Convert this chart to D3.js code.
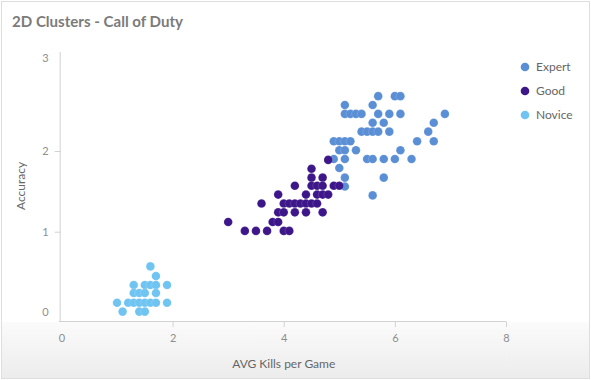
<!DOCTYPE html>
<html>
<head>
<meta charset="utf-8">
<script src="https://cdn.jsdelivr.net/npm/d3@7"></script>
<style>
  html, body { margin: 0; padding: 0; background: #fff; }
  svg { display: block; }
</style>
</head>
<body>
<svg id="chart" width="591" height="380"></svg>
<script>
// ---------- data ----------
const chartTitle = "2D Clusters - Call of Duty";
const xTitle = "AVG Kills per Game";
const yTitle = "Accuracy";
const categories = ["Expert", "Good", "Novice"];
const colors = ["#5a8fd6", "#3d168a", "#6fc4f2"];
const xTicks = [0, 2, 4, 6, 8];
const yTicks = [0, 1, 2, 3];

// [AVG kills per game, accuracy]
const expertPoints = [
  [5.7, 2.68], [6.0, 2.68], [6.1, 2.68],
  [5.1, 2.57], [5.6, 2.57],
  [5.1, 2.46], [5.2, 2.46], [5.3, 2.46], [5.4, 2.46], [5.7, 2.46], [5.9, 2.46], [6.1, 2.46], [6.9, 2.46],
  [5.6, 2.35], [5.8, 2.35], [6.7, 2.35],
  [5.4, 2.24], [5.5, 2.24], [5.6, 2.24], [5.7, 2.24], [5.9, 2.24], [6.6, 2.24],
  [4.9, 2.12], [5.0, 2.12], [5.1, 2.12], [5.2, 2.12], [6.4, 2.12], [6.7, 2.12],
  [5.0, 2.01], [5.1, 2.01], [5.3, 2.01], [6.1, 2.01],
  [4.9, 1.90], [5.1, 1.90], [5.5, 1.90], [5.6, 1.90], [5.8, 1.90], [6.0, 1.90], [6.3, 1.90],
  [5.0, 1.79],
  [5.1, 1.67], [5.8, 1.67],
  [5.1, 1.56],
  [5.6, 1.45]
];
const goodPoints = [
  [4.8, 1.89],
  [4.5, 1.78],
  [4.5, 1.67], [4.7, 1.67],
  [4.2, 1.57], [4.5, 1.57], [4.6, 1.57], [4.7, 1.57], [4.9, 1.57], [5.0, 1.57],
  [3.9, 1.46], [4.4, 1.46], [4.6, 1.46], [4.7, 1.46], [4.8, 1.46],
  [3.6, 1.35], [4.0, 1.35], [4.1, 1.35], [4.2, 1.35], [4.3, 1.35], [4.4, 1.35], [4.5, 1.35], [4.6, 1.35],
  [3.9, 1.24], [4.0, 1.24], [4.2, 1.24], [4.4, 1.24], [4.7, 1.24],
  [3.0, 1.12], [3.8, 1.12], [3.9, 1.12],
  [3.3, 1.01], [3.5, 1.01], [3.7, 1.01], [4.0, 1.01], [4.1, 1.01]
];
const novicePoints = [
  [1.6, 0.57],
  [1.7, 0.45],
  [1.3, 0.34], [1.5, 0.34], [1.6, 0.34], [1.7, 0.34], [1.9, 0.34],
  [1.3, 0.24], [1.4, 0.24], [1.5, 0.24], [1.7, 0.24],
  [1.0, 0.12], [1.2, 0.12], [1.3, 0.12], [1.4, 0.12], [1.5, 0.12], [1.6, 0.12], [1.7, 0.12], [1.9, 0.12],
  [1.1, 0.01], [1.4, 0.01], [1.5, 0.01]
];
const seriesPoints = [expertPoints, goodPoints, novicePoints];

// ---------- drawing ----------
const W = 591, H = 380;
const svg = d3.select("#chart");
const FONT = "Lato, 'Open Sans', sans-serif";

// card background
const defs = svg.append("defs");
const grad = defs.append("linearGradient").attr("id", "bottomFade")
  .attr("x1", 0).attr("y1", 0).attr("x2", 0).attr("y2", 1);
grad.append("stop").attr("offset", "0%").attr("stop-color", "#fbfbfb");
grad.append("stop").attr("offset", "100%").attr("stop-color", "#ececec");

svg.append("rect").attr("x", 0).attr("y", 0).attr("width", W).attr("height", H).attr("fill", "#ffffff");
svg.append("rect").attr("x", 1).attr("y", 322).attr("width", W - 2).attr("height", 56).attr("fill", "url(#bottomFade)");
svg.append("rect").attr("x", 1.5).attr("y", 1.5).attr("width", W - 3).attr("height", H - 3)
  .attr("fill", "none").attr("stroke", "#dedede").attr("stroke-width", 1);

// title
svg.append("text").attr("x", 12).attr("y", 27)
  .attr("font-family", FONT).attr("font-weight", "bold").attr("font-size", 15)
  .attr("fill", "#7b7b7b").attr("textLength", 171).attr("lengthAdjust", "spacingAndGlyphs")
  .text(chartTitle);

// scales
const x = d3.scaleLinear().domain([-0.05, 8]).range([58.7, 506]);
const y = d3.scaleLinear().domain([-0.1066, 3.2268]).range([321, 52]);

// axes
const axisColor = "#d2d2d2";
const tickColor = "#8e8e8e";

const gx = svg.append("g").attr("transform", `translate(0,${y.range()[0]})`)
  .call(d3.axisBottom(x).tickValues(xTicks).tickSize(6).tickPadding(7).tickFormat(d3.format("d")));
gx.select(".domain").attr("stroke", axisColor).attr("d", `M${x.range()[0]},0.5H${x.range()[1]}`);
gx.selectAll(".tick line").attr("stroke", axisColor).attr("y1", 0.5);
gx.selectAll(".tick").filter(d => d === 0).select("line").remove();
gx.selectAll(".tick text").attr("fill", tickColor).attr("font-family", FONT).attr("font-size", 11);

const gy = svg.append("g").attr("transform", `translate(${x(0) - 0.8},0)`)
  .call(d3.axisLeft(y).tickValues(yTicks).tickSize(6).tickPadding(6).tickFormat(d3.format("d")));
gy.select(".domain").attr("stroke", axisColor).attr("d", `M-0.5,${y.range()[1]}V${y.range()[0]}`);
gy.selectAll(".tick line").attr("stroke", axisColor);
gy.selectAll(".tick").filter(d => d === 0 || d === 3).select("line").remove();
gy.selectAll(".tick text").attr("fill", tickColor).attr("font-family", FONT).attr("font-size", 11)
  .attr("dy", d => d === 3 ? "-0.78em" : "0.32em");

// axis titles
svg.append("text")
  .attr("transform", `translate(25,186) rotate(-90)`)
  .attr("text-anchor", "middle").attr("font-family", FONT).attr("font-size", 12)
  .attr("fill", "#666").text(yTitle);
svg.append("text").attr("x", (x(0) + x(8)) / 2).attr("y", 368)
  .attr("text-anchor", "middle").attr("font-family", FONT).attr("font-size", 12)
  .attr("fill", "#666").text(xTitle);

// points: Expert, Novice, then Good on top
const drawOrder = [0, 2, 1];
drawOrder.forEach(i => {
  svg.append("g").selectAll("circle").data(seriesPoints[i]).join("circle")
    .attr("cx", d => x(d[0])).attr("cy", d => y(d[1])).attr("r", 4.3)
    .attr("fill", colors[i])
    .attr("stroke", "#ffffff").attr("stroke-opacity", 0.25).attr("stroke-width", 0.6);
});

// legend
const legend = svg.append("g").attr("transform", "translate(525,67)");
categories.forEach((c, i) => {
  const g = legend.append("g").attr("transform", `translate(0,${i * 24})`);
  g.append("circle").attr("cx", 0).attr("cy", 0).attr("r", 4.3).attr("fill", colors[i]);
  g.append("text").attr("x", 11).attr("y", 0).attr("dy", "0.35em")
    .attr("font-family", FONT).attr("font-size", 12).attr("fill", "#666").text(c);
});
</script>
</body>
</html>
